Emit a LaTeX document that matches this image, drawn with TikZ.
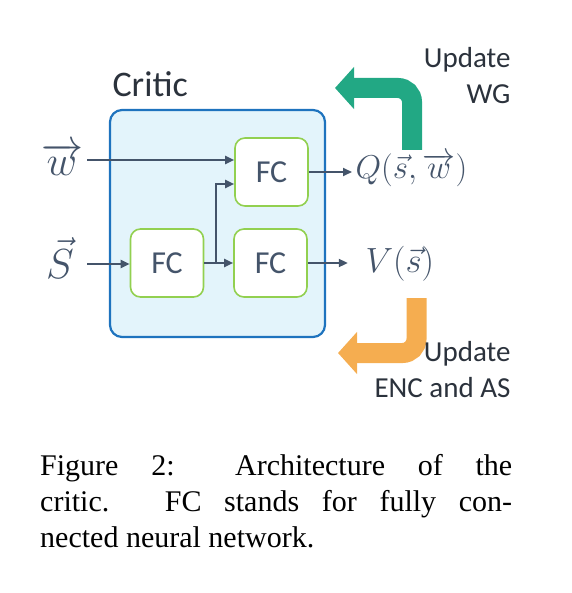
\RequirePackage{fix-cm}
\documentclass[tikz,border=0pt]{standalone}
\usepackage{fontspec}
\setmainfont{Liberation Serif}
\setsansfont{Carlito}
\usetikzlibrary{arrows.meta,calc}
\definecolor{critfill}{HTML}{E3F4FB}
\definecolor{critline}{HTML}{1E73BE}
\definecolor{fcline}{HTML}{92D050}
\definecolor{wirecol}{HTML}{44546A}
\definecolor{labtext}{HTML}{2B323C}
\definecolor{wgcol}{HTML}{22A884}
\definecolor{enccol}{HTML}{F5AD50}

\begin{document}
\begin{tikzpicture}[x=1pt, y=-1pt,
    critic/.style={draw=critline, line width=2.2pt, fill=critfill, rounded corners=12pt,
      minimum width=215pt, minimum height=227pt},
    fc/.style={draw=fcline, line width=1.6pt, fill=white, rounded corners=10pt,
      minimum width=73pt, minimum height=68pt, text=wirecol,
      font=\sffamily\fontsize{32}{32}\selectfont},
    wire/.style={draw=wirecol, line width=2pt, -{Triangle[length=9pt,width=8pt]}},
    mlabel/.style={text=wirecol, font=\fontsize{33}{33}\selectfont},
    slabel/.style={text=labtext, font=\sffamily\fontsize{29}{36}\selectfont},
    update/.style={line width=20pt, rounded corners=14pt, -{Triangle[length=19pt,width=41pt]}}]
   \useasboundingbox (0,0) rectangle (571,593);
   % critic block
   \node[critic] (critic) at (217.5,223.5) {};
   \node[slabel, anchor=base west, font=\sffamily\fontsize{36}{36}\selectfont] (crittitle) at (109,97) {Critic};
   \node[fc] (fcq) at (271.5,172) {FC};
   \node[fc] (fcs) at (167,263) {FC};
   \node[fc] (fcv) at (270.5,263) {FC};
   % inputs
   \node[mlabel, font=\fontsize{42}{42}\selectfont] (w) at (62,159) {$\overrightarrow{w}$};
   \node[mlabel, font=\fontsize{42}{42}\selectfont] (s) at (60,258) {$\vec{S}$};
   \coordinate (win) at (87,160);
   \coordinate (sin) at (87,264);
   \draw[wire] (win) -- (win -| fcq.west);
   \draw[wire] (sin) -- (sin -| fcs.west);
   \draw[wire] (fcs.east) -- (fcv.west);
   \coordinate (br) at ($(fcs.east)!0.4!(fcv.west)$);
   \draw[wire] (br) |- ($(fcq.west)+(0,12)$);
   % outputs
   \node[mlabel, anchor=west] (q) at (352,170) {$Q(\vec{s},\overrightarrow{w})$};
   \node[mlabel, font=\fontsize{35}{35}\selectfont, anchor=west] (v) at (362,264) {$V(\vec{s})$};
   \draw[wire] (fcq.east) -- (fcq.east -| q.west);
   \draw[wire] (fcv.east) -- ($(fcv.east)+(40,0)$);
   % update arrows
   \draw[update, wgcol] (412,150) -- (412,88) -- (335,88);
   \draw[update, enccol] (416.5,298) -- (416.5,353) -- (338,353);
   \node[slabel, anchor=north east, align=right] (upwg) at (514,44) {Update\\WG};
   \node[slabel, anchor=north east, align=right] (upenc) at (514,338) {Update\\ENC and AS};
   % caption
   \node[anchor=north west, inner sep=0pt, text width=472pt, align=justify,
     font=\fontsize{30}{36}\selectfont] (caption) at (40,454)
     {Figure 2: Architecture of the\linebreak critic. FC stands for fully con-\linebreak nected neural network.};
\end{tikzpicture}
\end{document}
